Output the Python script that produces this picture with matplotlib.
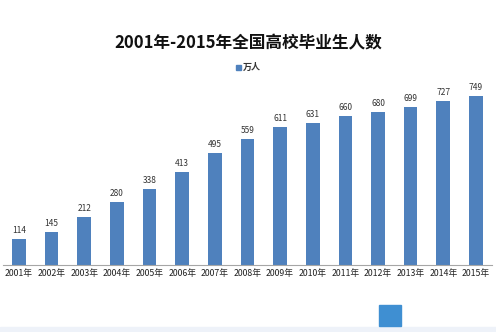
import matplotlib
matplotlib.use('Agg')
from matplotlib import pyplot as plt
from matplotlib.patches import Rectangle

plt.rcParams['font.family'] = ['Noto Sans CJK SC', 'DejaVu Sans']

years = ['2001年', '2002年', '2003年', '2004年', '2005年', '2006年', '2007年', '2008年',
         '2009年', '2010年', '2011年', '2012年', '2013年', '2014年', '2015年']
graduates = [114, 145, 212, 280, 338, 413, 495, 559, 611, 631, 660, 680, 699, 727, 749]

BAR_COLOR = '#4F81BD'

fig = plt.figure(figsize=(4.96, 3.32), dpi=100)
ax = fig.add_axes([0.0054, 0.2018, 0.987, 0.5437])

x = list(range(len(years)))
bars = ax.bar(x, graduates, width=0.42, color=BAR_COLOR, label='万人')
for xi, v in zip(x, graduates):
    ax.text(xi, v + 18, str(v), ha='center', va='bottom', fontsize=6, color='#333333')

ax.set_xlim(-0.5, 14.5)
ax.set_ylim(0, 800)
ax.set_xticks(x)
ax.set_xticklabels(years, fontsize=6.3, color='#222222')
ax.tick_params(axis='x', length=0, pad=3)
ax.set_yticks([])
for side in ['top', 'left', 'right']:
    ax.spines[side].set_visible(False)
ax.spines['bottom'].set_color('#A6A6A6')
ax.spines['bottom'].set_linewidth(0.8)

fig.text(0.5, 0.87, '2001年-2015年全国高校毕业生人数', ha='center', va='center',
         fontsize=12, fontweight='bold', color='#111111')

# legend entry under the title
fig.patches.append(Rectangle((236 / 496, 1 - 70 / 332), 5 / 496, 5 / 332,
                             transform=fig.transFigure, color=BAR_COLOR))
fig.text(243 / 496, 1 - 67 / 332, '万人', ha='left', va='center', fontsize=6.5,
         fontweight='bold', color='#333333')

# pale strip along the bottom edge and small logo mark
fig.patches.append(Rectangle((0, 0), 1, 5 / 332, transform=fig.transFigure,
                             color='#EEF2F9', zorder=0))
fig.patches.append(Rectangle((379 / 496, 6 / 332), 22 / 496, 21 / 332,
                             transform=fig.transFigure, color='#3F8FD2'))

fig.savefig('out.png', dpi=100, facecolor='white')
